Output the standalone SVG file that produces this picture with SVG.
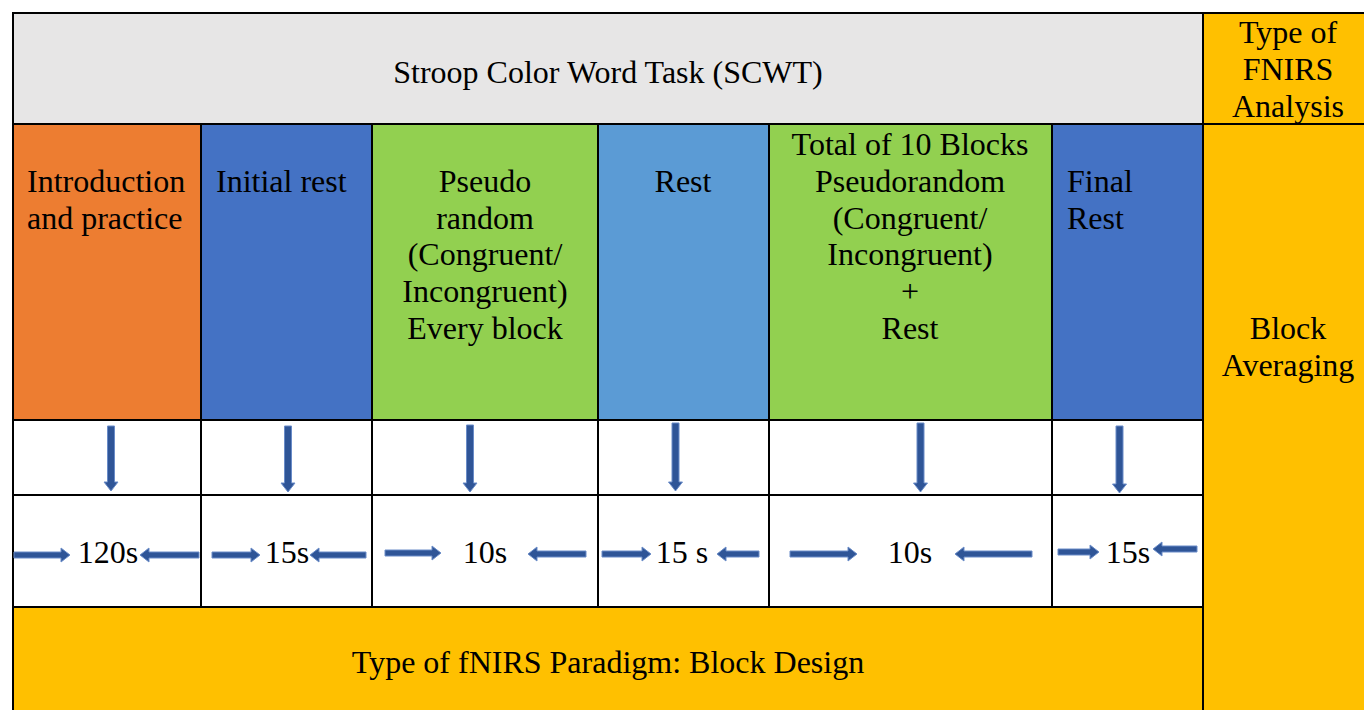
<svg xmlns="http://www.w3.org/2000/svg" width="1364" height="710" viewBox="0 0 1364 710">
<style>
.c{stroke:#000;stroke-width:2}
.t{font-family:"Liberation Serif","Times New Roman",serif;font-size:32px;fill:#000}
.m{text-anchor:middle}
.a{fill:#2F5597;stroke:#6A8CC8;stroke-width:1}
</style>
<rect width="1364" height="710" fill="#fff"/>
<g id="title"><rect class="c" x="13" y="13" width="1190" height="111" fill="#E7E6E6"/><text class="t m" x="608" y="83">Stroop Color Word Task (SCWT)</text></g>
<g id="analysis-type"><rect class="c" x="1203" y="13" width="163" height="111" fill="#FFC000"/><text class="t m" x="1288" y="43">Type of</text><text class="t m" x="1288" y="80">FNIRS</text><text class="t m" x="1288" y="117">Analysis</text></g>
<g id="intro"><rect class="c" x="13" y="124" width="188" height="296" fill="#ED7D31"/><text class="t" x="27" y="192">Introduction</text><text class="t" x="27" y="229">and practice</text></g>
<g id="initial-rest"><rect class="c" x="201" y="124" width="171" height="296" fill="#4472C4"/><text class="t" x="216" y="192">Initial rest</text></g>
<g id="pseudo"><rect class="c" x="372" y="124" width="226" height="296" fill="#92D050"/><text class="t m" x="485" y="192">Pseudo</text><text class="t m" x="485" y="228.7">random</text><text class="t m" x="485" y="265.3">(Congruent/</text><text class="t m" x="485" y="302">Incongruent)</text><text class="t m" x="485" y="338.7">Every block</text></g>
<g id="rest"><rect class="c" x="598" y="124" width="171" height="296" fill="#5B9BD5"/><text class="t m" x="683" y="192">Rest</text></g>
<g id="total-blocks"><rect class="c" x="769" y="124" width="283" height="296" fill="#92D050"/><text class="t m" x="910" y="155.3">Total of 10 Blocks</text><text class="t m" x="910" y="192">Pseudorandom</text><text class="t m" x="910" y="228.7">(Congruent/</text><text class="t m" x="910" y="265.3">Incongruent)</text><text class="t m" x="910" y="302">+</text><text class="t m" x="910" y="338.7">Rest</text></g>
<g id="final-rest"><rect class="c" x="1052" y="124" width="151" height="296" fill="#4472C4"/><text class="t" x="1067" y="192">Final</text><text class="t" x="1067" y="229">Rest</text></g>
<g id="block-averaging"><rect class="c" x="1203" y="124" width="163" height="588" fill="#FFC000"/><text class="t m" x="1288" y="339">Block</text><text class="t m" x="1288" y="376">Averaging</text></g>
<g id="arrow-row"><rect class="c" x="13" y="420" width="188" height="75" fill="#fff"/><rect class="c" x="201" y="420" width="171" height="75" fill="#fff"/><rect class="c" x="372" y="420" width="226" height="75" fill="#fff"/><rect class="c" x="598" y="420" width="171" height="75" fill="#fff"/><rect class="c" x="769" y="420" width="283" height="75" fill="#fff"/><rect class="c" x="1052" y="420" width="151" height="75" fill="#fff"/></g>
<g id="dur-120"><rect class="c" x="13" y="495" width="188" height="112" fill="#fff"/><text class="t m" x="108" y="563">120s</text></g>
<g id="dur-15a"><rect class="c" x="201" y="495" width="171" height="112" fill="#fff"/><text class="t m" x="287" y="563">15s</text></g>
<g id="dur-10a"><rect class="c" x="372" y="495" width="226" height="112" fill="#fff"/><text class="t m" x="485" y="563">10s</text></g>
<g id="dur-15b"><rect class="c" x="598" y="495" width="171" height="112" fill="#fff"/><text class="t m" x="682" y="563">15 s</text></g>
<g id="dur-10b"><rect class="c" x="769" y="495" width="283" height="112" fill="#fff"/><text class="t m" x="910" y="563">10s</text></g>
<g id="dur-15c"><rect class="c" x="1052" y="495" width="151" height="112" fill="#fff"/><text class="t m" x="1128" y="563">15s</text></g>
<g id="paradigm"><rect class="c" x="13" y="607" width="1190" height="105" fill="#FFC000"/><text class="t m" x="608" y="673">Type of fNIRS Paradigm: Block Design</text></g>
<g id="connectors">
<polygon class="a" points="107.5,426 114.5,426 114.5,482 118,482 111,491 104,482 107.5,482"/>
<polygon class="a" points="284.5,426 291.5,426 291.5,483 295,483 288,492 281,483 284.5,483"/>
<polygon class="a" points="466.5,425 473.5,425 473.5,483 477,483 470,492 463,483 466.5,483"/>
<polygon class="a" points="672,423 679,423 679,482 682.5,482 675.5,491 668.5,482 672,482"/>
<polygon class="a" points="917,423 924,423 924,483 927.5,483 920.5,492 913.5,483 917,483"/>
<polygon class="a" points="1116,426 1123,426 1123,484 1126.5,484 1119.5,493 1112.5,484 1116,484"/>
<polygon class="a" points="14,552 61,552 61,548 70,555 61,562 61,558 14,558"/>
<polygon class="a" points="199,552 149,552 149,548 140,555 149,562 149,558 199,558"/>
<polygon class="a" points="212,552 251,552 251,548 260,555 251,562 251,558 212,558"/>
<polygon class="a" points="366,552 319,552 319,548 310,555 319,562 319,558 366,558"/>
<polygon class="a" points="385,550 432,550 432,546 441,553 432,560 432,556 385,556"/>
<polygon class="a" points="586,551 537,551 537,547 528,554 537,561 537,557 586,557"/>
<polygon class="a" points="602,551 642,551 642,547 651,554 642,561 642,557 602,557"/>
<polygon class="a" points="759,551 726,551 726,547 717,554 726,561 726,557 759,557"/>
<polygon class="a" points="790,551 848,551 848,547 857,554 848,561 848,557 790,557"/>
<polygon class="a" points="1032,551 964,551 964,547 955,554 964,561 964,557 1032,557"/>
<polygon class="a" points="1058,549 1090,549 1090,545 1099,552 1090,559 1090,555 1058,555"/>
<polygon class="a" points="1197,546 1162,546 1162,542 1153,549 1162,556 1162,552 1197,552"/>
</g>
</svg>
